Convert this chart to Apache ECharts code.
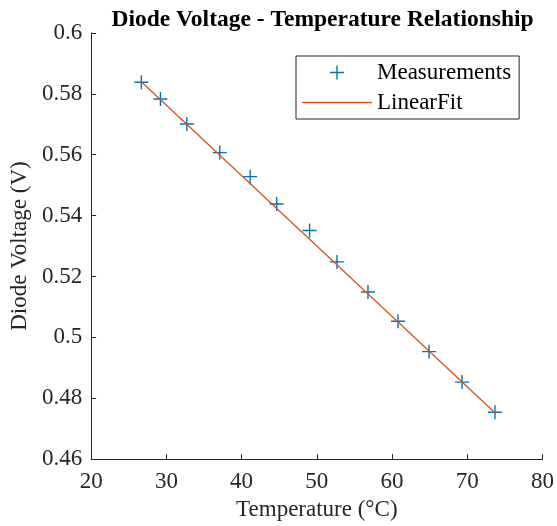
<!DOCTYPE html>
<html>
<head>
<meta charset="utf-8">
<script src="https://cdn.jsdelivr.net/npm/echarts@6/dist/echarts.min.js"></script>
<style>
html,body{margin:0;padding:0;background:#fff;}
#chart{width:557px;height:526px;}
</style>
</head>
<body>
<div id="chart"></div>
<script>
// Data
const temperature = [26.67, 29.21, 32.72, 37.1, 41.14, 44.66, 49.04, 52.68, 56.8, 60.79, 64.92, 69.3, 73.68];
const voltage = [0.5838, 0.5783, 0.5701, 0.5607, 0.5528, 0.5438, 0.5351, 0.5248, 0.5149, 0.5053, 0.4953, 0.4853, 0.4754];
const fitTemperature = [26.67, 73.68];
const fitVoltage = [0.5840, 0.4752];
const xTicks = [20, 30, 40, 50, 60, 70, 80];
const yTicks = [0.46, 0.48, 0.5, 0.52, 0.54, 0.56, 0.58, 0.6];
const seriesNames = ['Measurements', 'LinearFit'];
const titleText = 'Diode Voltage - Temperature Relationship';
const xLabel = 'Temperature (°C)';
const yLabel = 'Diode Voltage (V)';

const FONT = "'Liberation Serif', 'Times New Roman', serif";
const INK = '#262626';
const PLUS = 'path://M-1,-10 L1,-10 L1,-1 L10,-1 L10,1 L1,1 L1,10 L-1,10 L-1,1 L-10,1 L-10,-1 L-1,-1 Z';
const LINE_ICON = 'path://M0,0 L70,0 L70,1.3 L0,1.3 Z';

const chart = echarts.init(document.getElementById('chart'), null, {renderer: 'canvas'});
chart.setOption({
  animation: false,
  backgroundColor: '#fff',
  title: {
    text: titleText,
    left: 317.5, textAlign: 'center',
    top: 3,
    textStyle: {fontFamily: FONT, fontWeight: 'bold', fontSize: 23.5, color: '#000'}
  },
  grid: {left: 89.3, right: 11.7, top: 33, bottom: 66.7, containLabel: false},
  legend: {
    orient: 'vertical',
    left: 296, top: 56,
    padding: [5, 8, 5, 6],
    itemGap: 7,
    itemWidth: 70, itemHeight: 14,
    backgroundColor: '#fff',
    borderColor: INK, borderWidth: 1,
    data: [
      {name: seriesNames[0], icon: PLUS},
      {name: seriesNames[1], icon: LINE_ICON}
    ],
    textStyle: {fontFamily: FONT, fontSize: 23, color: '#000', lineHeight: 23}
  },
  xAxis: {
    type: 'value', min: xTicks[0], max: xTicks[xTicks.length - 1], interval: 10,
    name: xLabel, nameLocation: 'middle', nameGap: 37,
    nameTextStyle: {fontFamily: FONT, fontSize: 23, color: INK},
    axisLine: {show: true, lineStyle: {color: INK, width: 1}},
    axisTick: {show: true, inside: true, length: 5, lineStyle: {color: INK}},
    axisLabel: {fontFamily: FONT, fontSize: 23, color: INK, margin: 11},
    splitLine: {show: false}
  },
  yAxis: {
    type: 'value', min: yTicks[0], max: yTicks[yTicks.length - 1], interval: 0.02,
    name: yLabel, nameLocation: 'middle', nameGap: 58, nameRotate: 90,
    nameTextStyle: {fontFamily: FONT, fontSize: 23, color: INK},
    axisLine: {show: true, lineStyle: {color: INK, width: 1}},
    axisTick: {show: true, inside: true, length: 5, lineStyle: {color: INK}},
    axisLabel: {fontFamily: FONT, fontSize: 23, color: INK, margin: 9},
    splitLine: {show: false}
  },
  series: [
    {
      name: seriesNames[0], type: 'scatter',
      symbol: PLUS, symbolSize: 14,
      itemStyle: {color: '#0072BD', opacity: 1},
      data: temperature.map((t, i) => [t, voltage[i]]),
      z: 3
    },
    {
      name: seriesNames[1], type: 'line',
      symbol: 'none', showSymbol: false,
      lineStyle: {color: '#D95319', width: 1.3},
      itemStyle: {color: '#D95319'},
      data: fitTemperature.map((t, i) => [t, fitVoltage[i]]),
      z: 4
    }
  ]
});
</script>
</body>
</html>
